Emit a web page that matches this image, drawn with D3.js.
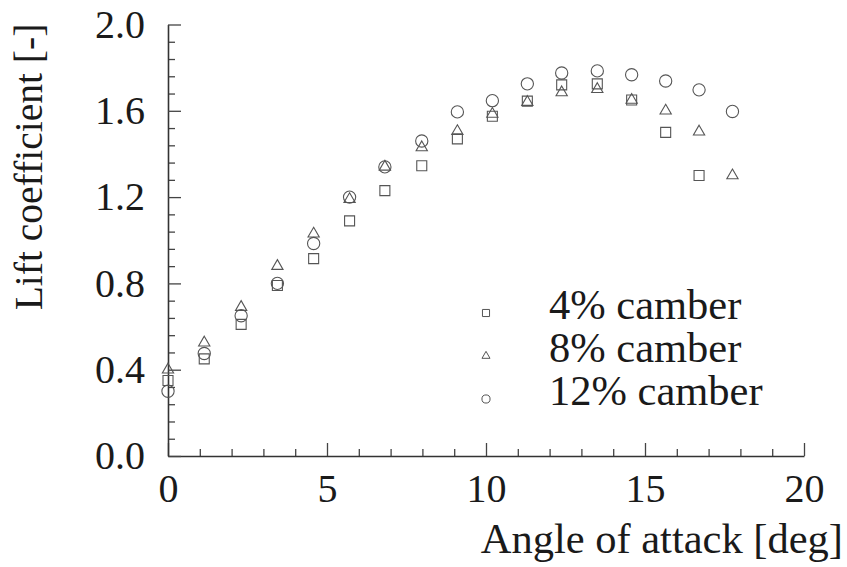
<!DOCTYPE html>
<html>
<head>
<meta charset="utf-8">
<script src="https://cdn.jsdelivr.net/npm/d3@7"></script>
<style>
  body { margin: 0; background: #fff; }
  text { font-family: "Liberation Serif", "DejaVu Serif", serif; fill: #1a1a1a; }
</style>
</head>
<body>
<div class="chart"></div>
<script>
// angle of attack for each measurement
const angles = [0, 1.14, 2.3, 3.44, 4.58, 5.71, 6.82, 7.98, 9.1, 10.2, 11.3, 12.38, 13.5, 14.58, 15.65, 16.7, 17.75];

// lift coefficients
const camber4 = [0.35, 0.45, 0.61, 0.79, 0.915, 1.09, 1.23, 1.345, 1.47, 1.575, 1.645, 1.72, 1.725, 1.65, 1.50, 1.30];
const camber8 = [0.40, 0.525, 0.69, 0.88, 1.03, 1.19, 1.34, 1.43, 1.505, 1.585, 1.64, 1.685, 1.70, 1.65, 1.60, 1.503, 1.30];
const camber12 = [0.30, 0.475, 0.65, 0.80, 0.985, 1.20, 1.34, 1.46, 1.595, 1.647, 1.725, 1.775, 1.785, 1.767, 1.738, 1.697, 1.597];

const seriesNames = ['4% camber', '8% camber', '12% camber'];
const xMajor = [0, 5, 10, 15, 20];
const yMajor = [0, 0.4, 0.8, 1.2, 1.6, 2.0];

const W = 847, H = 567;
const series = [
    { name: seriesNames[0], values: camber4, shape: d3.symbolSquare, size: 100, legendSize: 50 },
    { name: seriesNames[1], values: camber8, shape: d3.symbolTriangle, size: 55, legendSize: 28 },
    { name: seriesNames[2], values: camber12, shape: d3.symbolCircle, size: 118, legendSize: 52 }
];

const x = d3.scaleLinear([0, 20], [168, 804]);
const y = d3.scaleLinear([0, 2], [456, 24.5]);

const svg = d3.select('.chart')
    .append('svg')
    .attr('width', W)
    .attr('height', H);

// minor ticks first, no labels
const xMinor = d3.range(0, 21, 1).filter(d => d % 5 !== 0);
const yMinor = d3.range(0, 2.0001, 0.08).filter(d => Math.abs(d / 0.4 - Math.round(d / 0.4)) > 1e-6);

svg.append('g')
    .attr('transform', `translate(0,${y(0)})`)
    .call(d3.axisBottom(x).tickValues(xMinor).tickSize(-7).tickFormat(''))
    .call(g => g.select('.domain').remove());

svg.append('g')
    .attr('transform', `translate(${x(0)},0)`)
    .call(d3.axisLeft(y).tickValues(yMinor).tickSize(-7).tickFormat(''))
    .call(g => g.select('.domain').remove());

// major axes
const xAxisDraw = svg.append('g')
    .attr('class', 'x axis')
    .attr('transform', `translate(0,${y(0)})`)
    .call(d3.axisBottom(x).tickValues(xMajor).tickSizeInner(-13).tickSizeOuter(0).tickPadding(18).tickFormat(d3.format('d')));

const yAxisDraw = svg.append('g')
    .attr('class', 'y axis')
    .attr('transform', `translate(${x(0)},0)`)
    .call(d3.axisLeft(y).tickValues(yMajor).tickSizeInner(-13).tickSizeOuter(0).tickPadding(23).tickFormat(d3.format('.1f')));

svg.selectAll('.tick line').attr('stroke', '#444').attr('stroke-width', 1.3);
svg.selectAll('.domain').attr('stroke', '#333').attr('stroke-width', 1.6);
svg.selectAll('.tick text')
    .style('font-family', '"Liberation Serif", serif')
    .style('font-size', '40px')
    .attr('fill', '#1a1a1a');

// axis titles
svg.append('text')
    .attr('x', 843)
    .attr('y', 553)
    .attr('text-anchor', 'end')
    .style('font-size', '42.5px')
    .text('Angle of attack [deg]');

svg.append('text')
    .attr('transform', `translate(42,167) rotate(-90)`)
    .attr('text-anchor', 'middle')
    .style('font-size', '39.5px')
    .text('Lift coefficient [-]');

// data points
series.forEach(s => {
    svg.append('g')
        .selectAll('path')
        .data(s.values)
        .join('path')
        .attr('transform', (d, i) => `translate(${x(angles[i])},${y(d)})`)
        .attr('d', d3.symbol(s.shape, s.size))
        .attr('fill', 'none')
        .attr('stroke', '#555')
        .attr('stroke-width', 1.1);
});

// legend
const legend = svg.append('g').attr('transform', 'translate(486,313)');
const rows = legend.selectAll('g')
    .data(series)
    .join('g')
    .attr('transform', (d, i) => `translate(0,${i * 43})`);

rows.append('path')
    .attr('d', d => d3.symbol(d.shape, d.legendSize)())
    .attr('fill', 'none')
    .attr('stroke', '#555')
    .attr('stroke-width', 1);

rows.append('text')
    .attr('x', 63)
    .attr('y', 6)
    .style('font-size', '42.5px')
    .text(d => d.name);
</script>
</body>
</html>
